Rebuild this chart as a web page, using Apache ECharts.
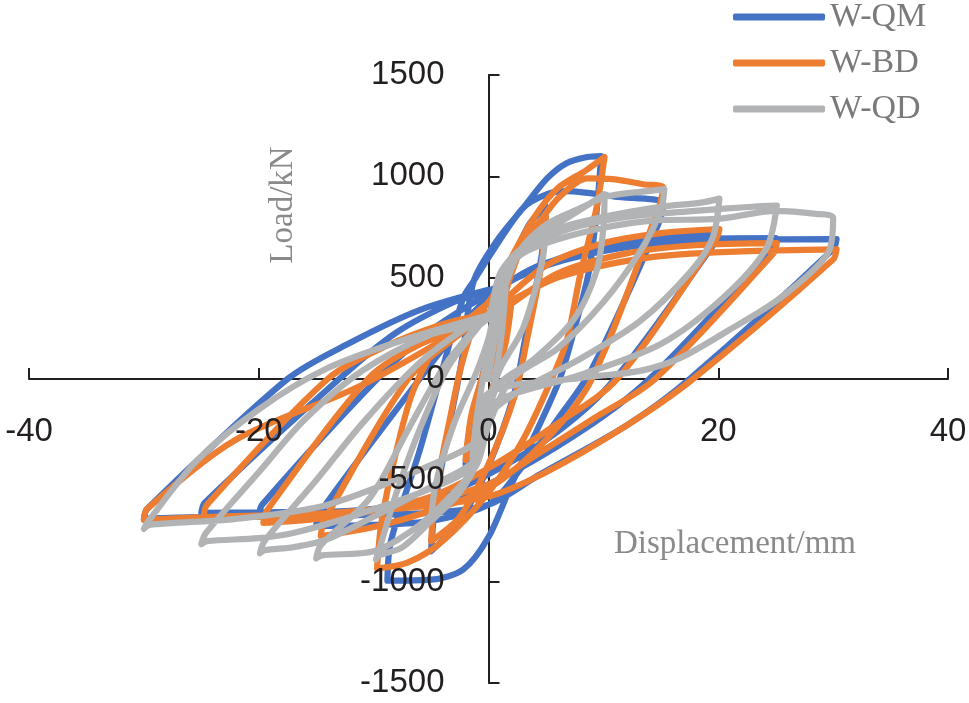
<!DOCTYPE html>
<html><head><meta charset="utf-8">
<script src="https://cdn.jsdelivr.net/npm/echarts@6/dist/echarts.min.js"></script>
<style>html,body{margin:0;padding:0;background:#fff}#c{width:969px;height:703px}</style>
</head><body><div id="c"></div>
<script>
const seriesNames = ['W-QM', 'W-BD', 'W-QD'];
const xTitle = 'Displacement/mm';
const yTitle = 'Load/kN';

// W-QM hysteresis path [displacement mm, load kN]
const qmPath = [
[0,0],[0.8,220],[2,400],[1.5,200],[0.6,0],[-0.8,-230],[-2,-420],[-1.5,-200],[-0.6,0],
[0.5,250],[2,560],[3.5,760],[5,850],[4.6,600],[3.2,200],[2.2,-80],[0,-430],[-2.5,-700],[-5,-850],[-4.6,-600],[-3.3,-200],[-2.3,100],
[-1.3,480],[0.7,680],[3,843],[5.1,990],[6.8,1065],[8.6,1095],[9.8,1100],[9.5,880],[8.8,547],[7.5,250],[6.2,0],[4,-280],[2,-520],[0,-780],[-2.2,-940],[-5,-990],[-8.8,-995],
[-8.5,-800],[-6,-355],[-4,50],[-2.2,400],[-1.3,483],[0,600],[3,843],[5.1,912],[6.8,927],[11,900],[15.2,868],
[14.9,780],[9,50],[6,-200],[2.7,-450],[0,-620],[-5,-700],[-10,-720],[-15,-725],
[-14.7,-660],[-6,0],[-3,220],[0,400],[4,550],[10,650],[15,700],[20,720],
[19.8,680],[11,0],[6,-260],[0,-470],[-5,-590],[-10,-640],[-15,-660],[-20,-670],
[-19.7,-620],[-9.7,0],[-5,240],[0,420],[5,570],[10,650],[17,690],[25,695],
[24.8,650],[14,0],[8,-260],[0,-520],[-5,-610],[-12,-650],[-20,-658],[-25,-660],
[-24.7,-610],[-13,0],[-8,230],[-3,380],[0,435],[5,560],[12,650],[20,685],[30.3,690],
[30,640],[17.5,0],[12,-230],[4.5,-470],[0,-620],[-5,-660],[-15,-675],[-25,-682],[-30,-690],
[-29.7,-640],[-17.5,0],[-12,180],[-6,340],[0,440]
];

// W-BD hysteresis path
const bdPath = [
[0,0],[0.8,200],[2,380],[1.5,180],[0.6,0],[-0.8,-220],[-2,-400],[-1.5,-180],[-0.6,0],
[0.5,220],[2,520],[3.5,720],[5,800],[4.6,560],[3.3,180],[2.3,-80],[0,-420],[-2.5,-680],[-5,-800],[-4.6,-560],[-3.3,-180],[-2.3,80],
[-1,300],[0.5,420],[2,600],[4,800],[6,940],[8.5,1030],[10.1,1095],[9.4,843],[8,518],[6.8,187],[5.5,0],[3,-300],[0,-560],[-4,-800],[-7,-905],[-9.7,-935],
[-9.3,-700],[-8,-350],[-6.5,-50],[-4,200],[-1,330],[0.7,420],[2.5,620],[4.5,780],[6.2,900],[8.6,990],[11,985],[13.6,960],[15.2,945],
[14.9,860],[9,0],[5,-300],[0,-540],[-5,-650],[-10,-730],[-14.6,-775],
[-14.3,-700],[-7,0],[-3,200],[0,320],[5,560],[10,670],[15,720],[20.1,740],
[19.8,690],[11.2,0],[6,-220],[0,-440],[-5,-580],[-10,-650],[-15,-690],[-19.6,-710],
[-19.3,-650],[-10.5,0],[-6,170],[0,300],[6,520],[12,620],[18,660],[25.1,670],
[24.8,620],[14.5,0],[9,-200],[4,-380],[0,-520],[-8,-630],[-16,-670],[-24.8,-685],
[-24.5,-620],[-14,0],[-9,160],[-4,270],[0,330],[6,500],[14,600],[22,630],[30.3,640],
[30,590],[17.8,0],[12,-230],[5,-460],[0,-580],[-6,-630],[-15,-665],[-24,-680],[-30,-695],
[-29.7,-640],[-22,-300],[-11,-30],[0.1,330]
];

// W-QD hysteresis path
const qdPath = [
[0,0],[0.7,250],[1.5,450],[1.1,200],[0.3,-80],[-0.7,-300],[-1.5,-470],[-1.1,-220],[-0.3,60],
[0.5,300],[1.5,520],[3,650],[5,720],[4.6,560],[3,250],[1,50],[0,-120],[-1,-350],[-2.5,-550],[-5,-700],[-4.6,-520],[-3,-220],[-1,40],[0,200],
[0.7,380],[2,580],[4,700],[7,800],[10.1,912],[10,745],[9.4,532],[7.5,300],[4,100],[1,-20],[0,-150],[-0.8,-380],[-2.5,-560],[-5,-700],[-7.5,-830],[-9.5,-870],[-9.8,-890],[-9.4,-820],[-8,-560],[-6,-250],[-3.5,60],[-1,250],[0,320],
[0.7,350],[2.7,630],[5.1,765],[8,843],[10.3,900],[13.8,927],[15.3,937],[15,830],[13.2,630],[10,380],[6,150],[2,0],[0,-230],[-1,-420],[-3,-560],[-6,-720],[-10,-850],[-14.5,-870],[-15,-885],[-14.6,-820],[-10.3,-585],[-7,-250],[-4,50],[-1.5,230],[0,310],
[1,520],[3,650],[6,740],[10,800],[15,850],[18.5,870],[20.1,890],[19.5,695],[17.6,530],[13.2,286],[8,100],[3,-50],[0,-180],[-1.2,-400],[-4,-500],[-9,-650],[-14,-790],[-17,-830],[-19.5,-845],[-19.9,-860],[-19.5,-800],[-15,-500],[-11,-220],[-6,80],[-2,250],[0,300],
[1,500],[3,640],[7,740],[12,800],[18,830],[23,850],[25.1,855],[24.2,645],[20.4,400],[15,173],[8,20],[1,-100],[0,-200],[-1.2,-420],[-5,-540],[-12,-680],[-17,-760],[-20,-785],[-24.5,-800],[-25,-815],[-24.6,-760],[-20,-460],[-16,-200],[-11,40],[-5,220],[0,300],
[1,490],[3,620],[8,720],[14,780],[20,790],[25,830],[28.5,815],[30,795],[29.5,617],[25.4,400],[20.8,237],[16.7,104],[13.2,40],[8,5],[0,-70],[-1,-300],[-4,-400],[-14,-620],[-22,-690],[-29.5,-720],[-30,-740],[-29.6,-700],[-25.4,-404],[-20,-150],[-14,54],[-7,200],[0.3,320]
];

const xRange = [-40, 40, 20];
const yRange = [-1500, 1500, 500];
const colors = ['#4472C4', '#ED7D31', '#B2B3B5'];

const chart = echarts.init(document.getElementById('c'), null, {renderer: 'canvas'});
const axisColor = '#231f20';
const labelFont = 'Liberation Sans, Arial, sans-serif';
const serif = 'Liberation Serif, Times New Roman, serif';
const paths = [qmPath, bdPath, qdPath];

function xAx(labelsOnly) {
  return {
    type: 'value', min: xRange[0], max: xRange[1], interval: xRange[2],
    position: 'bottom', offset: -304, z: labelsOnly ? 20 : 0,
    axisLine: {show: !labelsOnly, onZero: false, lineStyle: {color: axisColor, width: 2}},
    axisTick: {show: !labelsOnly, inside: true, length: 11, lineStyle: {color: axisColor, width: 2}},
    axisLabel: {show: labelsOnly, margin: 36, fontSize: 33, color: axisColor, fontFamily: labelFont,
      formatter: v => String(v)},
    splitLine: {show: false}
  };
}
function yAx(labelsOnly) {
  return {
    type: 'value', min: yRange[0], max: yRange[1], interval: yRange[2],
    position: 'left', offset: -459.5, z: labelsOnly ? 20 : 0,
    axisLine: {show: !labelsOnly, onZero: false, lineStyle: {color: axisColor, width: 2}},
    axisTick: {show: !labelsOnly, inside: true, length: 11, lineStyle: {color: axisColor, width: 2}},
    axisLabel: {show: labelsOnly, margin: 44, fontSize: 33, color: axisColor, fontFamily: labelFont,
      formatter: v => String(v)},
    splitLine: {show: false}
  };
}

chart.setOption({
  animation: false,
  backgroundColor: '#ffffff',
  grid: {left: 29, right: 21, top: 75, bottom: 20, containLabel: false, outerBoundsMode: 'none'},
  xAxis: [xAx(false), xAx(true)],
  yAxis: [yAx(false), yAx(true)],
  legend: {
    orient: 'vertical', left: 728, top: -5,
    itemWidth: 92, itemHeight: 7, itemGap: 12, icon: 'roundRect',
    textStyle: {fontFamily: serif, fontSize: 34, color: '#7a7a7a'},
    data: seriesNames
  },
  graphic: [
    {type: 'text', x: 283, y: 205, rotation: Math.PI / 2, z: 30,
     style: {text: yTitle, fontFamily: serif, fontSize: 33, fill: '#8a8a8a', align: 'center', verticalAlign: 'middle'}},
    {type: 'text', x: 735, y: 544, z: 30,
     style: {text: xTitle, fontFamily: serif, fontSize: 33, fill: '#8a8a8a', align: 'center', verticalAlign: 'middle'}}
  ],
  series: paths.map((p, i) => ({
    name: seriesNames[i], type: 'line', data: p, showSymbol: false, symbol: 'none',
    xAxisIndex: 0, yAxisIndex: 0,
    smooth: 0.3, color: colors[i],
    lineStyle: {width: 6.2, color: colors[i], cap: 'round', join: 'round'},
    z: 2 + i
  }))
});
</script></body></html>
